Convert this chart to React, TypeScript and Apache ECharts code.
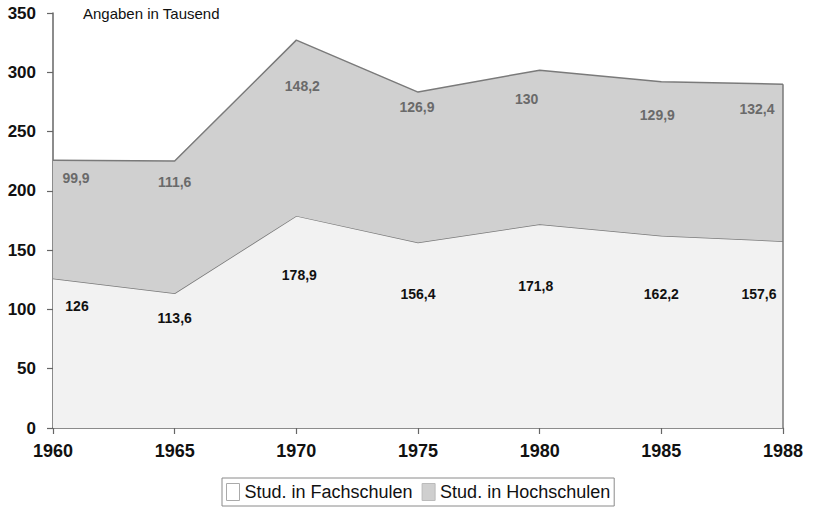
import React, { useEffect, useRef } from "react";
import * as echarts from "echarts";

const YEARS = ["1960", "1965", "1970", "1975", "1980", "1985", "1988"];
const FACHSCHULEN = [126, 113.6, 178.9, 156.4, 171.8, 162.2, 157.6];
const HOCHSCHULEN = [99.9, 111.6, 148.2, 126.9, 130, 129.9, 132.4];
const Y_MIN = 0;
const Y_MAX = 350;
const Y_STEP = 50;

// label offsets (style only)
const FACH_OFFSETS = [[24, 27], [0, 25], [3, 59], [0, 51], [-4, 62], [0, 58], [-24, 53]];
const HOCH_OFFSETS = [[23, 18], [0, 21], [6, 46], [-1, 15], [-13, 29], [-4, 33], [-26, 25]];

const fmt = (p: any) => String(p.value).replace(".", ",");

export default function App() {
  const ref = useRef<HTMLDivElement>(null);
  useEffect(() => {
    if (!ref.current) return;
    const chart = echarts.init(ref.current, null, { renderer: "svg" });
    const font = "Liberation Sans, Arial, sans-serif";
    const lastIdx = YEARS.length - 1;
    const lastTotal = FACHSCHULEN[lastIdx] + HOCHSCHULEN[lastIdx];
    chart.setOption({
      animation: false,
      backgroundColor: "#ffffff",
      grid: { left: 53, right: 31, top: 13, bottom: 81 },
      graphic: [
        {
          type: "text",
          left: 83,
          top: 6,
          style: { text: "Angaben in Tausend", font: `15px ${font}`, fill: "#111" },
        },
      ],
      legend: {
        left: 222,
        top: 478,
        padding: [5, 4, 5, 4],
        borderColor: "#8a8a8a",
        borderWidth: 1,
        itemWidth: 13,
        itemHeight: 17,
        itemGap: 9,
        textStyle: { fontFamily: font, fontSize: 18, color: "#111", padding: [0, 0, 0, 0] },
        data: [
          { name: "Stud. in Fachschulen", icon: "rect", itemStyle: { color: "#ffffff", borderColor: "#aaa", borderWidth: 1 } },
          { name: "Stud. in Hochschulen", icon: "rect", itemStyle: { color: "#cfcfcf", borderColor: "#bbb", borderWidth: 1 } },
        ],
      },
      xAxis: {
        type: "category",
        data: YEARS,
        boundaryGap: false,
        axisLine: { lineStyle: { color: "#666", width: 1.5 } },
        axisTick: { show: true, alignWithLabel: true, length: 6, lineStyle: { color: "#666", width: 1.2 } },
        axisLabel: { fontFamily: font, fontSize: 18, fontWeight: "bold", color: "#111", margin: 14 },
        splitLine: { show: false },
      },
      yAxis: {
        type: "value",
        min: Y_MIN,
        max: Y_MAX,
        interval: Y_STEP,
        axisLine: { show: true, lineStyle: { color: "#666", width: 1.5 } },
        axisTick: { show: true, length: 6, lineStyle: { color: "#666", width: 1.2 } },
        axisLabel: { fontFamily: font, fontSize: 17, fontWeight: "bold", color: "#111", margin: 17 },
        splitLine: { show: false },
      },
      series: [
        {
          name: "Stud. in Fachschulen",
          type: "line",
          stack: "total",
          data: FACHSCHULEN.map((v, i) => ({ value: v, label: { offset: FACH_OFFSETS[i] } })),
          symbol: "circle",
          symbolSize: 0.1,
          showSymbol: true,
          itemStyle: { color: "rgba(0,0,0,0)" },
          lineStyle: { color: "#7a7a7a", width: 1.5 },
          areaStyle: { color: "#f2f2f2", opacity: 1 },
          label: {
            show: true,
            position: "inside",
            formatter: fmt,
            fontFamily: font,
            fontSize: 14,
            fontWeight: "bold",
            color: "#111",
          },
          z: 2,
        },
        {
          name: "Stud. in Hochschulen",
          type: "line",
          stack: "total",
          data: HOCHSCHULEN.map((v, i) => ({ value: v, label: { offset: HOCH_OFFSETS[i] } })),
          symbol: "circle",
          symbolSize: 0.1,
          showSymbol: true,
          itemStyle: { color: "rgba(0,0,0,0)" },
          lineStyle: { color: "#7a7a7a", width: 1.5 },
          areaStyle: { color: "#d0d0d0", opacity: 1 },
          label: {
            show: true,
            position: "inside",
            formatter: fmt,
            fontFamily: font,
            fontSize: 14,
            fontWeight: "bold",
            color: "#6a6a6a",
          },
          markLine: {
            silent: true,
            symbol: "none",
            label: { show: false },
            lineStyle: { color: "#7a7a7a", width: 1.5, type: "solid" },
            data: [[{ coord: [YEARS[lastIdx], 0] }, { coord: [YEARS[lastIdx], lastTotal] }]],
          },
          z: 3,
        },
      ],
    });
    return () => chart.dispose();
  }, []);
  return (
    <div
      ref={ref}
      style={{ position: "fixed", left: 0, top: 0, width: 814, height: 509 }}
    />
  );
}
